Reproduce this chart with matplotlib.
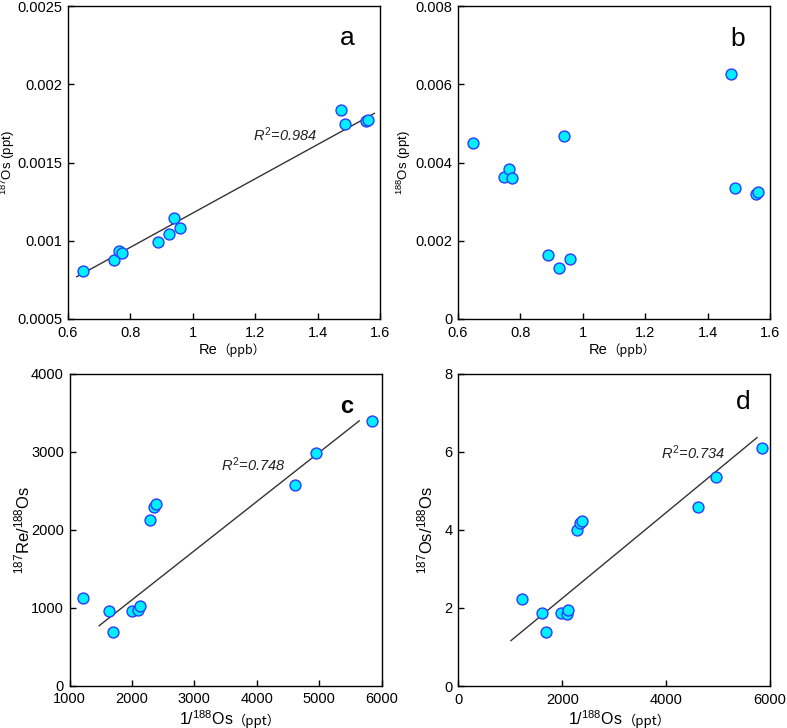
import matplotlib
matplotlib.use("Agg")
import matplotlib.pyplot as plt
import numpy as np

plt.rcParams['font.family'] = ['Liberation Sans', 'Noto Sans CJK SC', 'DejaVu Sans']
plt.rcParams['mathtext.fontset'] = 'custom'
plt.rcParams['mathtext.rm'] = 'Liberation Sans'
plt.rcParams['mathtext.it'] = 'Liberation Sans:italic'
plt.rcParams['mathtext.bf'] = 'Liberation Sans:bold'

# ---- data ----
re_ppb = [0.648, 0.746, 0.764, 0.772, 0.889, 0.925, 0.939, 0.960, 1.475, 1.489, 1.554, 1.560]
os187 = [0.000809, 0.000877, 0.000937, 0.000920, 0.000990, 0.001043, 0.001145, 0.001080,
         0.001833, 0.001748, 0.001767, 0.001770]
os188 = [0.004507, 0.003638, 0.003825, 0.003595, 0.001644, 0.001303, 0.004677, 0.001542,
         0.006270, 0.003357, 0.003203, 0.003254]

inv_os188_c = [1224, 1635, 1704, 1998, 2099, 2131, 2286, 2355, 2387, 4613, 4954, 5845]
re187_os188 = [1125, 954, 685, 950, 963, 1019, 2126, 2289, 2323, 2571, 2986, 3397]

inv_os188_d = [1219, 1617, 1681, 1976, 2086, 2118, 2278, 2342, 2381, 4614, 4960, 5846]
os187_os188 = [2.239, 1.880, 1.376, 1.880, 1.838, 1.949, 3.983, 4.171, 4.222, 4.573, 5.350, 6.094]

# trend lines
fit_a_x = [0.628, 1.582]
fit_a_y = [0.00077, 0.001814]
fit_c_x = [1475, 5643]
fit_c_y = [766, 3393]
fit_d_x = [1014, 5750]
fit_d_y = [1.162, 6.359]

r2_a = "0.984"
r2_c = "0.748"
r2_d = "0.734"

# ---- figure ----
fig = plt.figure(figsize=(7.87, 7.28), dpi=100)
W, H = 787, 728

def make_ax(l, t, r, b):
    return fig.add_axes([l / W, 1 - b / H, (r - l) / W, (b - t) / H])

ax_a = make_ax(68, 6, 380, 319)
ax_b = make_ax(458, 6, 770, 319)
ax_c = make_ax(69.5, 373.5, 381.5, 685.5)
ax_d = make_ax(458.3, 373.5, 770, 686)

face = '#00EEFF'
edge = '#2A3CFF'
line_col = '#333333'
cjk = ['Noto Sans CJK SC', 'Liberation Sans', 'DejaVu Sans']

def style(ax, size):
    ax.tick_params(direction='in', length=4, width=1, labelsize=size,
                   top=False, right=False, colors='black')
    ax.tick_params(axis='x', pad=5)
    ax.tick_params(axis='y', pad=4)
    for s in ax.spines.values():
        s.set_linewidth(1.0)
        s.set_color('black')

def scatter(ax, x, y):
    ax.scatter(x, y, s=62, facecolor=face, edgecolor=edge, linewidths=1.0, zorder=3,
               clip_on=False)

def xlabel_with_unit(ax, main, unit, size, usize, pad, xpos):
    lab = ax.set_xlabel(main, fontsize=size, labelpad=pad)
    lab.set_horizontalalignment('right')
    lab.set_x(xpos)
    ax.annotate(unit, xy=(1, 0), xycoords=lab, ha='left', va='bottom',
                fontsize=usize, family=cjk)

def ylabel_at(ax, text, size, xfrac):
    ax.set_ylabel(text, fontsize=size)
    ax.yaxis.set_label_coords(xfrac, 0.5)

# a
style(ax_a, 10.5)
ax_a.plot(fit_a_x, fit_a_y, color=line_col, lw=1.0, zorder=2)
scatter(ax_a, re_ppb, os187)
ax_a.set_xlim(0.6, 1.6)
ax_a.set_ylim(0.0005, 0.0025)
ax_a.set_xticks([0.6, 0.8, 1.0, 1.2, 1.4, 1.6])
ax_a.set_xticklabels(['0.6', '0.8', '1', '1.2', '1.4', '1.6'])
ax_a.set_yticks([0.0005, 0.001, 0.0015, 0.002, 0.0025])
ax_a.set_yticklabels(['0.0005', '0.001', '0.0015', '0.002', '0.0025'])
xlabel_with_unit(ax_a, 'Re', '（ppb）', 10.5, 9, 2, 0.48)
ylabel_at(ax_a, r'$^{187}$Os (ppt)', 9.5, -0.163)
ax_a.text(0.894, 0.898, 'a', transform=ax_a.transAxes, fontsize=19, ha='center', va='center')
ax_a.text(0.696, 0.588, r'$R^{2}$=' + r2_a, transform=ax_a.transAxes, fontsize=10.5,
          style='italic', ha='center', va='center', color='#222222')

# b
style(ax_b, 10.5)
scatter(ax_b, re_ppb, os188)
ax_b.set_xlim(0.6, 1.6)
ax_b.set_ylim(0, 0.008)
ax_b.set_xticks([0.6, 0.8, 1.0, 1.2, 1.4, 1.6])
ax_b.set_xticklabels(['0.6', '0.8', '1', '1.2', '1.4', '1.6'])
ax_b.set_yticks([0, 0.002, 0.004, 0.006, 0.008])
ax_b.set_yticklabels(['0', '0.002', '0.004', '0.006', '0.008'])
xlabel_with_unit(ax_b, 'Re', '（ppb）', 10.5, 9, 2, 0.48)
ylabel_at(ax_b, r'$^{188}$Os (ppt)', 9.5, -0.144)
ax_b.text(0.897, 0.895, 'b', transform=ax_b.transAxes, fontsize=19, ha='center', va='center')

# c
style(ax_c, 10.5)
ax_c.plot(fit_c_x, fit_c_y, color=line_col, lw=1.0, zorder=2)
scatter(ax_c, inv_os188_c, re187_os188)
ax_c.set_xlim(1000, 6000)
ax_c.set_ylim(0, 4000)
ax_c.set_xticks([1000, 2000, 3000, 4000, 5000, 6000])
ax_c.set_yticks([0, 1000, 2000, 3000, 4000])
xlabel_with_unit(ax_c, r'1/$^{188}$Os', '（ppt）', 11.5, 9.5, 2, 0.524)
ylabel_at(ax_c, r'$^{187}$Re/$^{188}$Os', 12, -0.12)
ax_c.text(0.889, 0.893, 'c', transform=ax_c.transAxes, fontsize=17, fontweight='bold',
          ha='center', va='center')
ax_c.text(0.588, 0.707, r'$R^{2}$=' + r2_c, transform=ax_c.transAxes, fontsize=10.5,
          style='italic', ha='center', va='center', color='#222222')

# d
style(ax_d, 10.5)
ax_d.plot(fit_d_x, fit_d_y, color=line_col, lw=1.0, zorder=2)
scatter(ax_d, inv_os188_d, os187_os188)
ax_d.set_xlim(0, 6000)
ax_d.set_ylim(0, 8)
ax_d.set_xticks([0, 2000, 4000, 6000])
ax_d.set_yticks([0, 2, 4, 6, 8])
xlabel_with_unit(ax_d, r'1/$^{188}$Os', '（ppt）', 11.5, 9.5, 2, 0.528)
ylabel_at(ax_d, r'$^{187}$Os/$^{188}$Os', 12, -0.075)
ax_d.text(0.913, 0.91, 'd', transform=ax_d.transAxes, fontsize=19, ha='center', va='center')
ax_d.text(0.753, 0.748, r'$R^{2}$=' + r2_d, transform=ax_d.transAxes, fontsize=10.5,
          style='italic', ha='center', va='center', color='#222222')

fig.savefig('out.png', dpi=100)
